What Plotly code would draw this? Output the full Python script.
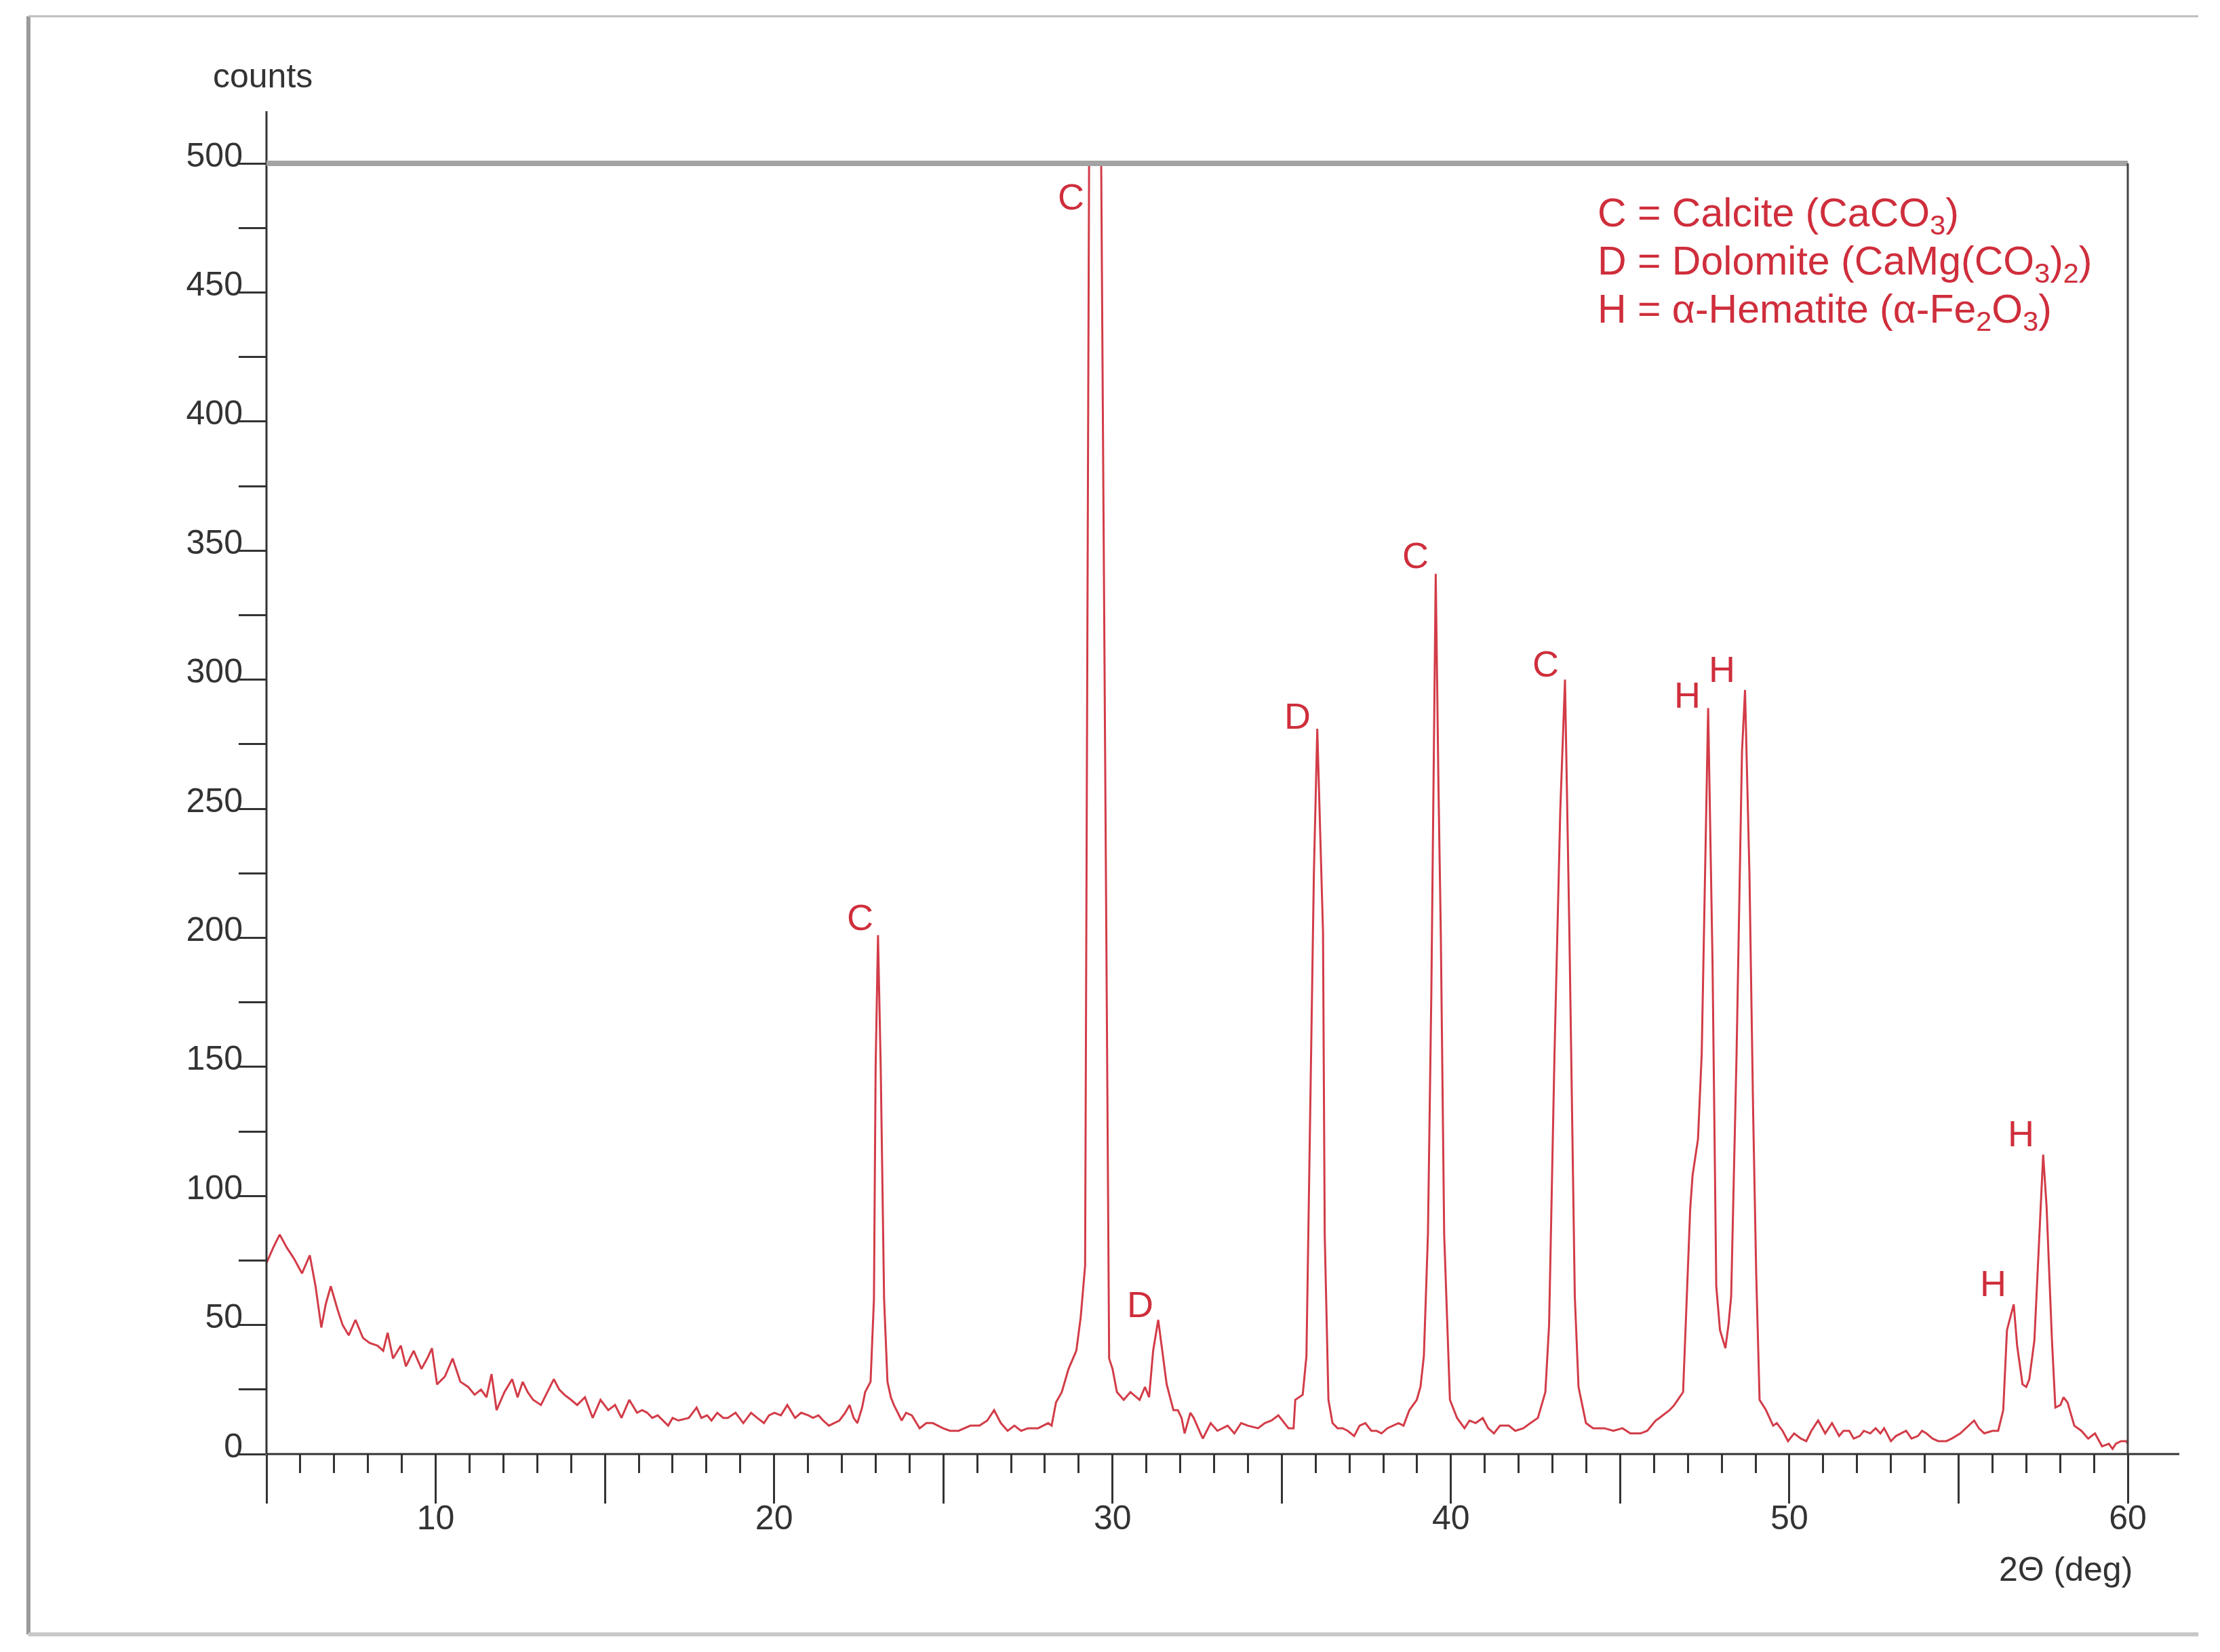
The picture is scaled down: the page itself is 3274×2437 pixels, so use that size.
"""
XRD pattern: counts vs 2-theta, with phase labels (Calcite / Dolomite / Hematite).
"""

import plotly.graph_objects as go

# ---- data -------------------------------------------------------------
two_theta = [
    5.00, 5.20, 5.39, 5.60, 5.80, 6.05, 6.28, 6.45, 6.62, 6.75, 6.90, 7.10, 7.25, 7.43, 7.63,
    7.85, 8.05, 8.28, 8.45, 8.58, 8.74, 8.97, 9.12, 9.35, 9.58, 9.75, 9.89, 10.04, 10.27, 10.50,
    10.73, 10.96, 11.15, 11.34, 11.50, 11.65, 11.80, 12.03, 12.26, 12.42, 12.57, 12.72, 12.88,
    13.11, 13.30, 13.49, 13.65, 13.80, 14.00, 14.18, 14.41, 14.64, 14.87, 15.10, 15.30, 15.49,
    15.72, 15.95, 16.10, 16.25, 16.40, 16.56, 16.87, 17.00, 17.17, 17.48, 17.71, 17.85, 18.02,
    18.15, 18.32, 18.50, 18.63, 18.86, 19.09, 19.32, 19.50, 19.70, 19.85, 20.01, 20.20, 20.39,
    20.62, 20.80, 21.01, 21.15, 21.31, 21.45, 21.62, 21.93, 22.10, 22.23, 22.35, 22.46, 22.60,
    22.69, 22.85, 22.95, 23.00, 23.07, 23.15, 23.25, 23.35, 23.45, 23.54, 23.77, 23.90, 24.07,
    24.30, 24.50, 24.69, 24.85, 24.99, 25.20, 25.45, 25.80, 26.07, 26.30, 26.50, 26.70, 26.90,
    27.10, 27.30, 27.50, 27.80, 28.10, 28.20, 28.33, 28.50, 28.70, 28.93, 29.06, 29.19, 29.31,
    29.48, 29.66, 29.78, 29.90, 30.00, 30.13, 30.33, 30.53, 30.80, 30.96, 31.08, 31.20, 31.35,
    31.47, 31.60, 31.80, 31.93, 32.04, 32.13, 32.30, 32.40, 32.60, 32.67, 32.90, 33.10, 33.40,
    33.60, 33.80, 34.00, 34.30, 34.50, 34.70, 34.90, 35.20, 35.35, 35.40, 35.62, 35.73, 35.84,
    35.95, 36.05, 36.13, 36.22, 36.27, 36.38, 36.50, 36.65, 36.80, 36.95, 37.14, 37.30, 37.47,
    37.65, 37.80, 37.95, 38.12, 38.30, 38.45, 38.60, 38.77, 38.99, 39.10, 39.20, 39.32, 39.42,
    39.55, 39.63, 39.70, 39.80, 39.97, 40.18, 40.40, 40.55, 40.73, 40.94, 41.10, 41.27, 41.45,
    41.60, 41.71, 41.90, 42.14, 42.35, 42.57, 42.79, 42.90, 43.06, 43.23, 43.37, 43.50, 43.66,
    43.77, 43.99, 44.20, 44.53, 44.80, 45.07, 45.30, 45.60, 45.80, 46.05, 46.16, 46.46, 46.60,
    46.86, 46.97, 47.07, 47.14, 47.30, 47.41, 47.52, 47.60, 47.73, 47.84, 47.95, 48.11, 48.20,
    48.28, 48.44, 48.60, 48.69, 48.82, 48.93, 49.02, 49.12, 49.31, 49.52, 49.63, 49.80, 49.96,
    50.14, 50.34, 50.50, 50.65, 50.85, 51.06, 51.26, 51.47, 51.60, 51.77, 51.90, 52.08, 52.20,
    52.39, 52.55, 52.69, 52.80, 53.00, 53.15, 53.31, 53.45, 53.61, 53.80, 53.92, 54.05, 54.23,
    54.40, 54.64, 54.80, 55.05, 55.30, 55.46, 55.60, 55.76, 56.00, 56.17, 56.32, 56.43, 56.55,
    56.63, 56.73, 56.89, 57.00, 57.09, 57.24, 57.40, 57.50, 57.60, 57.76, 57.86, 58.01, 58.10,
    58.22, 58.42, 58.63, 58.83, 59.03, 59.24, 59.44, 59.55, 59.65, 59.80, 59.95, 60.00,
]
counts = [
    74, 80, 85, 80, 76, 70, 77, 65, 49, 58, 65, 56, 50, 46, 52,
    45, 43, 42, 40, 47, 37, 42, 34, 40, 33, 37, 41, 27, 30, 37,
    28, 26, 23, 25, 22, 31, 17, 24, 29, 22, 28, 24, 21,
    19, 24, 29, 25, 23, 21, 19, 22, 14, 21, 17, 19, 14,
    21, 16, 17, 16, 14, 15, 11, 14, 13, 14, 18, 14, 15,
    13, 16, 14, 14, 16, 12, 16, 14, 12, 15, 16, 15, 19,
    14, 16, 15, 14, 15, 13, 11, 13, 16, 19, 14, 12, 18,
    24, 28, 60, 150, 201, 150, 60, 28, 22, 19, 13, 16, 15,
    10, 12, 12, 11, 10, 9, 9, 11, 11, 13, 17, 12, 9,
    11, 9, 10, 10, 12, 11, 20, 24, 33, 40, 53, 73, 510,
    900, 510, 260, 37, 33, 24, 21, 24, 21, 26, 22, 40, 52,
    40, 27, 17, 17, 14, 8, 16, 14, 8, 6, 12, 9, 11,
    8, 12, 11, 10, 12, 13, 15, 10, 10, 21, 23, 38, 131,
    225, 281, 245, 202, 85, 21, 12, 10, 10, 9, 7, 11, 12,
    9, 9, 8, 10, 11, 12, 11, 17, 21, 26, 38, 85, 178,
    341, 260, 202, 85, 21, 14, 10, 13, 12, 14, 10, 8, 11,
    11, 11, 9, 10, 12, 14, 24, 50, 155, 249, 300, 202, 61,
    26, 12, 10, 10, 9, 10, 8, 8, 9, 13, 14, 17, 19,
    24, 61, 95, 108, 122, 155, 237, 289, 190, 65, 48, 41, 50,
    61, 155, 272, 296, 225, 132, 70, 21, 17, 11, 12, 9, 5,
    8, 6, 5, 9, 13, 8, 12, 7, 9, 9, 6, 7, 9,
    8, 10, 8, 10, 5, 7, 8, 9, 6, 7, 9, 8, 6,
    5, 5, 6, 8, 11, 13, 10, 8, 9, 9, 17, 48, 54,
    58, 42, 27, 26, 29, 44, 86, 116, 96, 44, 18, 19, 22,
    20, 11, 9, 6, 8, 3, 4, 2, 4, 5, 5, 4,
]

# labelled reflections (apex of each marked peak; the big calcite peak is clipped at the top)
peak_x = [23.08, 29.31, 31.35, 36.01, 39.49, 43.34, 47.52, 48.55, 56.57, 57.39]
peak_y = [201, 480, 51, 279, 341, 299, 287, 297, 59, 117]
peak_phase = ["C", "C", "D", "D", "C", "C", "H", "H", "H", "H"]

legend_lines = [
    "C = Calcite (CaCO<sub>3</sub>)",
    "D = Dolomite (CaMg(CO<sub>3</sub>)<sub>2</sub>)",
    "H = α-Hematite (α-Fe<sub>2</sub>O<sub>3</sub>)",
]

x_label_ticks = [10, 20, 30, 40, 50, 60]
x_half_ticks = [5, 15, 25, 35, 45, 55]

# ---- styling ----------------------------------------------------------
FONT = "Liberation Sans, Arial, sans-serif"
RED = "#cf2e3c"
LINE_RED = "#d23c48"
AXIS = "#333333"

fig = go.Figure()
fig.add_trace(go.Scatter(
    x=two_theta,
    y=counts,
    mode="lines",
    line={"color": LINE_RED, "width": 3},
    showlegend=False,
    hoverinfo="skip",
))
# empty trace so the second (unlabelled long-tick) x axis gets drawn
fig.add_trace(go.Scatter(x=[None], y=[None], xaxis="x2", mode="lines",
                         showlegend=False, hoverinfo="skip"))

# peak letters
for px, py, ph in zip(peak_x, peak_y, peak_phase):
    fig.add_annotation(
        x=px, y=py, text=ph, showarrow=False,
        xanchor="center", yanchor="middle", xshift=-27, yshift=27,
        font={"family": FONT, "size": 54, "color": RED},
    )

# legend block, top right
for i, line in enumerate(legend_lines):
    fig.add_annotation(
        xref="paper", yref="paper", x=0.7144, y=0.9596 - i * 0.0373,
        text=line, showarrow=False, xanchor="left", yanchor="middle",
        font={"family": FONT, "size": 59, "color": RED},
    )

# axis titles
fig.add_annotation(
    xref="paper", yref="paper", x=0, y=1.0677, text="counts", showarrow=False,
    xanchor="center", yanchor="middle", xshift=-6,
    font={"family": FONT, "size": 50, "color": AXIS},
)
fig.add_annotation(
    xref="paper", yref="paper", x=1.0033, y=-0.0893, text="2Θ (deg)", showarrow=False,
    xanchor="right", yanchor="middle",
    font={"family": FONT, "size": 50, "color": AXIS},
)

# frame lines: axes extended past the box, grey top edge, thin right edge
fig.add_shape(type="line", xref="x domain", yref="y domain", x0=0, x1=0, y0=0, y1=1.0404,
              line={"color": AXIS, "width": 3}, layer="above")
fig.add_shape(type="line", xref="x domain", yref="y domain", x0=0, x1=1.0277, y0=0, y1=0,
              line={"color": AXIS, "width": 3}, layer="above")
fig.add_shape(type="line", xref="x domain", yref="y domain", x0=0, x1=1, y0=1, y1=1,
              line={"color": "#a3a3a3", "width": 8}, layer="above")
fig.add_shape(type="line", xref="x domain", yref="y domain", x0=1, x1=1, y0=0, y1=1,
              line={"color": "#444444", "width": 3}, layer="above")

# outer picture border (left, top, bottom)
fig.add_shape(type="line", xref="paper", yref="paper", x0=-0.1279, x1=-0.1279, y0=-0.1397, y1=1.114,
              line={"color": "#9a9a9a", "width": 6})
fig.add_shape(type="line", xref="paper", yref="paper", x0=-0.1279, x1=1.0379, y0=1.114, y1=1.114,
              line={"color": "#bdbdbd", "width": 3})
fig.add_shape(type="line", xref="paper", yref="paper", x0=-0.1279, x1=1.0379, y0=-0.1397, y1=-0.1397,
              line={"color": "#c8c8c8", "width": 6})

tick_style = {"ticks": "outside", "tickwidth": 3, "tickcolor": AXIS,
              "showgrid": False, "zeroline": False, "showline": False}

fig.update_layout(
    width=3274,
    height=2437,
    paper_bgcolor="white",
    plot_bgcolor="white",
    margin={"l": 385, "r": 144, "t": 233, "b": 300},
    font={"family": FONT, "size": 50, "color": AXIS},
    xaxis={
        **tick_style,
        "range": [5, 60],
        "tickmode": "array",
        "tickvals": x_label_ticks,
        "ticklen": 72,
        "ticklabelstandoff": -22,
        "tickfont": {"family": FONT, "size": 50, "color": AXIS},
        "minor": {"tickmode": "linear", "tick0": 5, "dtick": 1, "ticks": "outside",
                  "ticklen": 27, "tickwidth": 3, "tickcolor": AXIS, "showgrid": False},
    },
    xaxis2={
        **tick_style,
        "range": [5, 60],
        "overlaying": "x",
        "anchor": "y",
        "side": "bottom",
        "tickmode": "array",
        "tickvals": x_half_ticks,
        "ticklen": 72,
        "showticklabels": False,
    },
    yaxis={
        **tick_style,
        "range": [0, 500],
        "tickmode": "linear",
        "tick0": 0,
        "dtick": 50,
        "ticklen": 40,
        "ticklabelshift": -13,
        "ticklabelstandoff": -16,
        "tickfont": {"family": FONT, "size": 50, "color": AXIS},
        "minor": {"tickmode": "linear", "tick0": 0, "dtick": 25, "ticks": "outside",
                  "ticklen": 40, "tickwidth": 3, "tickcolor": AXIS, "showgrid": False},
    },
)

fig.write_html("out.html")
